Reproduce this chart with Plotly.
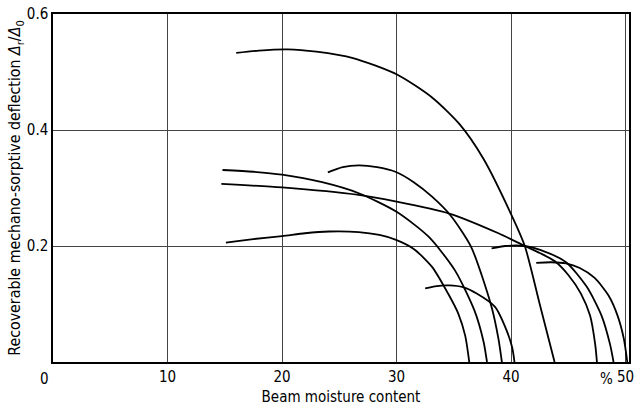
import plotly.graph_objects as go

# ---- data ----
a_x = [16.0, 18.0, 20.5, 23.0, 26.2, 30.0, 33.1, 35.5, 37.6, 40.0, 41.2, 42.5, 43.8]
a_y = [0.533, 0.537, 0.539, 0.535, 0.524, 0.496, 0.456, 0.410, 0.350, 0.255, 0.200, 0.100, 0.0]

c_x = [14.8, 17.5, 20.0, 23.5, 26.7, 30.0, 32.8, 35.1, 36.8, 37.6, 37.9]
c_y = [0.331, 0.328, 0.323, 0.310, 0.291, 0.259, 0.216, 0.158, 0.089, 0.035, 0.0]

d_x = [14.7, 20.0, 26.7, 30.0, 34.6, 38.9, 41.2, 42.5, 43.8, 45.0, 46.1, 46.9, 47.35, 47.5]
d_y = [0.307, 0.301, 0.288, 0.2765, 0.256, 0.222, 0.200, 0.188, 0.174, 0.150, 0.118, 0.080, 0.030, 0.0]

e_x = [24.0, 25.3, 26.7, 28.3, 29.9, 31.5, 33.1, 34.7, 36.5, 38.3, 38.9, 39.2]
e_y = [0.327, 0.336, 0.339, 0.336, 0.328, 0.310, 0.285, 0.253, 0.199, 0.095, 0.040, 0.0]

f_x = [15.1, 17.5, 20.0, 22.0, 24.1, 26.7, 28.5, 29.9, 31.5, 33.1, 34.5, 35.4, 36.0, 36.35]
f_y = [0.206, 0.212, 0.217, 0.222, 0.225, 0.224, 0.219, 0.211, 0.195, 0.164, 0.118, 0.083, 0.045, 0.0]

g_x = [32.5, 33.5, 34.6, 35.8, 37.0, 38.6, 39.6, 40.1, 40.3]
g_y = [0.127, 0.131, 0.132, 0.129, 0.118, 0.095, 0.055, 0.025, 0.0]

h_x = [38.3, 39.5, 41.2, 42.6, 44.8, 46.6, 47.9, 48.65, 48.95]
h_y = [0.196, 0.200, 0.200, 0.193, 0.172, 0.130, 0.080, 0.030, 0.0]

i_x = [42.2, 43.5, 44.8, 46.0, 47.3, 48.5, 49.3, 49.85, 50.15]
i_y = [0.171, 0.172, 0.170, 0.162, 0.145, 0.115, 0.080, 0.040, 0.0]

curves = [(a_x, a_y), (c_x, c_y), (d_x, d_y), (e_x, e_y),
          (f_x, f_y), (g_x, g_y), (h_x, h_y), (i_x, i_y)]

x_tick_vals = [10, 20, 30, 40, 50]
x_tick_text = ["10", "20", "30", "40", "50"]
y_tick_vals = [0.2, 0.4, 0.6]
y_tick_text = ["0.2", "0.4", "0.6"]

FONT = "DejaVu Sans Condensed, Liberation Sans Narrow, Roboto Condensed, Arial Narrow, DejaVu Sans, sans-serif"

fig = go.Figure()
for xs, ys in curves:
    fig.add_trace(go.Scatter(x=xs, y=ys, mode="lines",
                             line=dict(color="black", width=1.8, shape="spline", smoothing=0.7),
                             showlegend=False, hoverinfo="skip"))

fig.update_layout(
    width=639, height=409,
    margin=dict(l=53, r=10, t=14, b=47),
    paper_bgcolor="white", plot_bgcolor="white",
    font=dict(family=FONT, size=15, color="black"),
    showlegend=False,
)
fig.update_xaxes(
    range=[0, 50.3], tickvals=x_tick_vals, ticktext=x_tick_text,
    tickfont=dict(size=15),
    showgrid=True, gridcolor="#444", gridwidth=1,
    showline=True, linecolor="black", linewidth=1.5, mirror=True,
    ticks="", zeroline=False,
    title=dict(text="Beam moisture content", standoff=7, font=dict(size=15)),
    automargin=False,
)
fig.update_yaxes(
    range=[0, 0.6], tickvals=y_tick_vals, ticktext=y_tick_text,
    tickfont=dict(size=15),
    showgrid=True, gridcolor="#444", gridwidth=1,
    showline=True, linecolor="black", linewidth=1.5, mirror=True,
    ticks="", zeroline=False,
    title=dict(text="Recoverable mechano-sorptive deflection <i>Δ</i><sub>r</sub>/<i>Δ</i><sub>0</sub>",
               standoff=2, font=dict(size=15.8)),
    automargin=False,
)
fig.add_annotation(x=0, y=0, xref="x", yref="y", text="0", showarrow=False,
                   font=dict(size=15),
                   xanchor="center", yanchor="top", xshift=-9, yshift=-6)
fig.add_annotation(x=48.3, y=0, xref="x", yref="y", text="%", showarrow=False,
                   font=dict(size=15),
                   xanchor="center", yanchor="top", yshift=-6)

fig.write_html("out.html")
